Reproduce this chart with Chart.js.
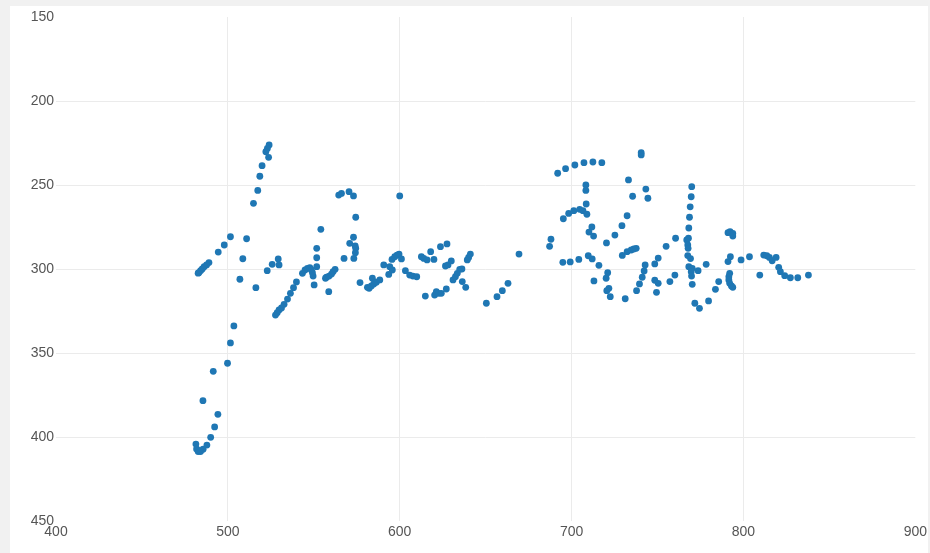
<!DOCTYPE html>
<html>
<head>
<meta charset="utf-8">
<script src="https://cdn.jsdelivr.net/npm/chart.js@4/dist/chart.umd.min.js"></script>
<style>
  html, body { margin: 0; padding: 0; background: #f1f1f1; }
  #wrap { position: absolute; left: 0; top: 0; width: 930px; height: 553px; }
</style>
</head>
<body>
<div id="wrap"><canvas id="chart" width="930" height="553"></canvas></div>
<script>
// Measured positions (x, y) of each sample
const xValues = [
  // left cluster rising to the tip
  514.9, 501.5, 497.9, 494.4, 489.0, 487.6, 486.2, 485.1, 484.1, 483.1, 482.7,
  510.9, 508.7, 507.0, 516.3, 503.5,
  524.0, 523.0, 522.1, 523.7, 519.9, 518.6, 517.4,
  // hook at the bottom left
  501.5, 499.8, 491.5, 485.5, 494.2, 492.3, 490.0, 487.8, 485.6, 484.1, 482.7, 481.4, 481.8, 483.0,
  // 520 - 570
  522.9, 525.8, 529.3, 529.8,
  527.7, 528.7, 529.8, 531.2, 532.7, 534.7, 536.4, 538.2, 539.9,
  543.4, 544.9, 546.3, 547.7, 548.6, 549.2, 549.6, 550.2,
  551.7, 551.7, 551.7, 554.1,
  556.8, 558.7, 557.4, 558.9, 560.3, 561.2, 562.4,
  567.6, 570.9,
  // 564 - 600
  564.5, 566.1, 570.5, 573.1, 574.4, 573.1, 574.1, 574.4, 574.2, 573.3, 576.9,
  581.2, 582.2, 583.5, 584.9, 584.1, 586.4, 588.4,
  590.7, 593.6, 594.2, 595.5, 597.1, 598.4, 599.6, 601.0, 595.7, 600.0,
  603.3, 605.8, 607.7, 609.9,
  // 610 - 670
  612.6, 614.0, 615.9, 618.0, 619.9,
  614.9, 620.3, 621.3, 622.7, 624.2, 627.1,
  623.7, 627.5, 626.6, 628.1, 630.0,
  631.0, 632.4, 633.5, 634.9, 636.2, 636.4, 638.4,
  639.3, 640.1, 641.1,
  650.4, 656.6, 659.7, 663.0, 669.4,
  // 685 - 765
  740.5, 740.5,
  691.9, 696.5, 701.9, 707.2, 712.4, 717.6,
  708.3, 708.3, 708.5,
  733.1, 743.2, 744.4, 735.5,
  695.2, 698.3, 701.3, 704.7, 706.6, 708.9, 732.3,
  711.8, 710.1, 712.8, 729.3, 725.2, 720.3,
  688.0, 687.2,
  729.5, 732.3, 734.7, 736.2, 737.6,
  694.9, 699.2, 704.2, 709.7, 712.0, 715.9, 721.0, 720.1, 713.0,
  721.7, 720.5, 722.5, 731.2,
  737.8, 739.5, 741.1, 742.2, 742.8,
  748.4, 750.4, 749.4, 748.4, 750.4,
  757.2, 760.1, 755.0, 760.5,
  // 765 - 840
  769.9, 769.6, 769.0, 768.6, 768.2, 767.0, 768.0, 767.6, 767.8, 767.6, 769.2, 768.2, 770.2, 769.6,
  773.6, 769.8, 770.2, 778.3, 771.7, 774.4, 779.7, 783.7, 785.6,
  791.0, 792.2, 793.8, 793.8,
  792.4, 791.0, 792.0, 791.5, 791.5, 792.0, 793.0, 793.8,
  798.6, 803.5, 809.5,
  811.8, 813.6, 815.1, 816.7, 819.0, 820.5, 821.5, 824.0, 827.3, 831.6, 837.8
];

const yValues = [
  260.9, 280.8, 285.7, 289.9, 296.2, 297.6, 298.6, 300.0, 301.0, 302.2, 302.5,
  282.0, 293.9, 306.1, 311.1, 333.9,
  226.2, 228.2, 230.2, 233.5, 238.5, 244.8, 253.2,
  344.0, 356.1, 360.9, 378.4, 386.5, 394.0, 400.2, 404.8, 407.3, 408.7, 408.7, 404.2, 407.1, 408.0,
  301.0, 297.2, 294.0, 297.6,
  327.4, 326.0, 324.4, 323.2, 321.0, 317.9, 314.5, 311.1, 307.7,
  302.6, 300.6, 299.6, 299.2, 300.6, 302.2, 304.2, 309.5,
  298.6, 293.3, 287.7, 276.4,
  305.5, 313.5, 304.9, 304.2, 303.0, 301.6, 300.2,
  293.7, 284.7,
  256.0, 255.0, 254.0, 256.5, 269.2, 281.1, 286.3, 287.7, 290.3, 293.7, 308.1,
  310.9, 311.5, 310.1, 308.9, 305.5, 307.9, 306.5,
  297.6, 303.2, 298.6, 294.3, 292.7, 291.7, 291.1, 294.0, 300.6, 256.5,
  301.0, 303.6, 304.2, 304.6,
  292.7, 293.7, 294.6, 289.7, 294.3,
  316.1, 315.5, 313.5, 314.5, 314.5, 311.9,
  286.7, 285.1, 298.2, 297.6, 295.2,
  306.5, 304.6, 302.6, 300.2, 300.0, 307.5, 310.9,
  294.6, 293.1, 291.1,
  320.4, 316.5, 312.9, 308.5, 291.1,
  230.8, 232.1,
  243.0, 240.3, 238.1, 236.7, 236.3, 236.7,
  250.0, 253.2, 261.3,
  247.0, 252.4, 257.9, 256.7,
  270.1, 266.9, 265.3, 264.5, 265.3, 267.4, 268.3,
  275.0, 278.0, 280.4, 274.2, 279.8, 284.5,
  282.3, 286.5,
  291.9, 289.7, 288.7, 288.1, 287.7,
  296.0, 295.8, 294.3, 292.1, 294.0, 297.8, 302.2, 305.5, 307.1,
  311.5, 312.9, 316.5, 317.7,
  312.9, 308.9, 304.9, 301.2, 297.6,
  306.7, 308.5, 313.9, 297.0, 293.5,
  307.5, 303.6, 286.5, 281.7,
  251.0, 257.0, 263.0, 269.2, 275.6, 282.7, 281.7, 285.7, 287.7, 292.0, 293.8, 298.6, 299.6, 301.6,
  301.0, 304.2, 309.1, 297.2, 320.4, 323.4, 319.0, 312.1, 307.5,
  278.4, 277.8, 278.8, 280.4,
  292.7, 295.6, 302.6, 304.6, 306.5, 308.5, 310.1, 310.9,
  294.6, 292.7, 303.6,
  291.7, 292.1, 293.1, 295.1, 293.1, 299.0, 301.6, 304.0, 305.2, 305.2, 303.6
];

const xTicks = [400, 500, 600, 700, 800, 900];
const yTicks = [150, 200, 250, 300, 350, 400, 450];

const points = xValues.map((x, i) => ({ x: x, y: yValues[i] }));

// Paints the grey page and the white panel behind the plot
const panelBackground = {
  id: 'panelBackground',
  beforeDraw(chart) {
    const ctx = chart.ctx;
    ctx.save();
    ctx.fillStyle = '#f1f1f1';
    ctx.fillRect(0, 0, chart.width, chart.height);
    ctx.fillStyle = '#ffffff';
    ctx.fillRect(10, 6, 918, chart.height - 6);
    ctx.restore();
  }
};

const tickFont = { family: "'Liberation Sans', Arial, sans-serif", size: 14 };
const gridColor = (ends) => (c) =>
  (c.tick && ends.includes(c.tick.value)) ? 'rgba(0,0,0,0)' : '#ebebeb';

new Chart(document.getElementById('chart'), {
  type: 'scatter',
  data: {
    datasets: [{
      data: points,
      backgroundColor: '#1f77b4',
      borderWidth: 0,
      pointRadius: 3.4,
      pointHoverRadius: 3.4
    }]
  },
  plugins: [panelBackground],
  options: {
    responsive: false,
    animation: false,
    events: [],
    layout: { padding: { top: 17, right: 14, left: 0, bottom: 0 } },
    plugins: { legend: { display: false }, tooltip: { enabled: false } },
    scales: {
      x: {
        type: 'linear',
        min: xTicks[0],
        max: xTicks[xTicks.length - 1],
        afterBuildTicks: (s) => { s.ticks = xTicks.map(v => ({ value: v })); },
        afterFit: (s) => { s.height = 32; },
        border: { display: false },
        grid: { color: gridColor([400, 900]), lineWidth: 1, drawTicks: false },
        ticks: { color: '#555555', font: tickFont, padding: 3, maxRotation: 0, autoSkip: false }
      },
      y: {
        type: 'linear',
        reverse: true,
        min: yTicks[0],
        max: yTicks[yTicks.length - 1],
        afterBuildTicks: (s) => { s.ticks = yTicks.map(v => ({ value: v })); },
        afterFit: (s) => { s.width = 56; },
        border: { display: false },
        grid: { color: gridColor([150, 450]), lineWidth: 1, drawTicks: false },
        ticks: { color: '#555555', font: tickFont, padding: 2, autoSkip: false }
      }
    }
  }
});
</script>
</body>
</html>
